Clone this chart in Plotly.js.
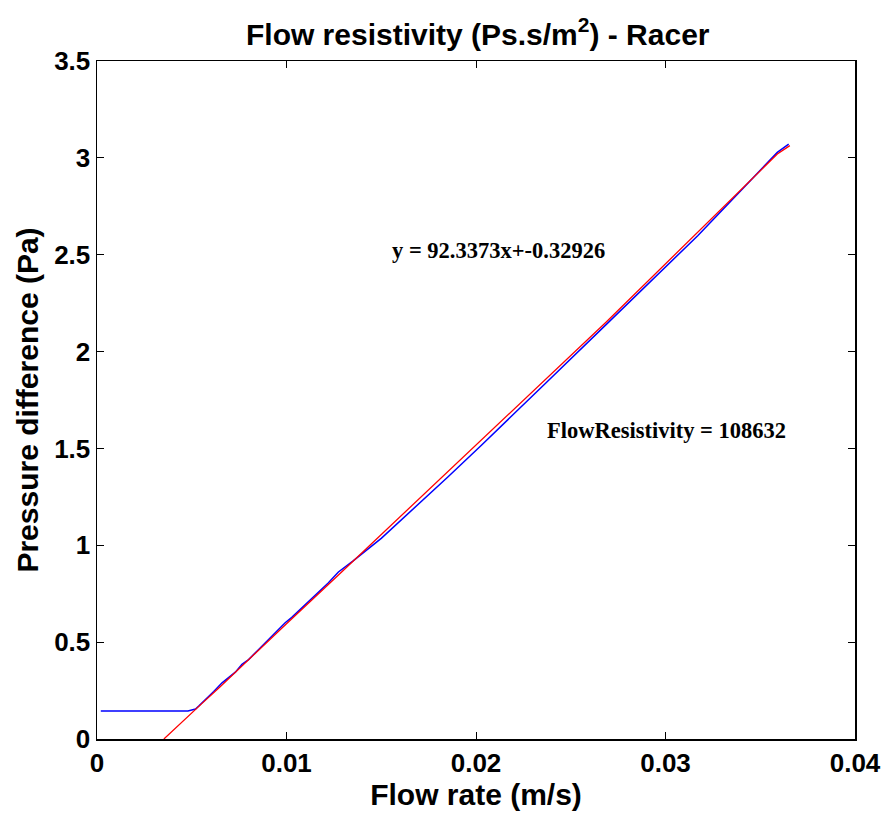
<!DOCTYPE html>
<html>
<head>
<meta charset="utf-8">
<script src="https://cdn.plot.ly/plotly-3.0.1.min.js"></script>
<style>html,body{margin:0;padding:0;background:#fff;}#chart{width:888px;height:814px;}</style>
</head>
<body>
<div id="chart"></div>
<script>
// Measured data (blue)
var measuredX = [0.0002, 0.0025, 0.00335, 0.0048, 0.005, 0.0052, 0.00537, 0.0058, 0.00616, 0.0066, 0.00695, 0.0073, 0.00765, 0.008, 0.00853, 0.00905, 0.00958, 0.00993, 0.01028, 0.0115, 0.0122, 0.01274, 0.0135, 0.015, 0.0168, 0.0185, 0.0203, 0.022, 0.0237, 0.027, 0.03, 0.0317, 0.0359, 0.0365];
var measuredY = [0.145, 0.145, 0.147, 0.145, 0.15, 0.155, 0.17, 0.21, 0.245, 0.29, 0.318, 0.345, 0.385, 0.41, 0.462, 0.513, 0.565, 0.6, 0.628, 0.738, 0.805, 0.862, 0.918, 1.036, 1.197, 1.351, 1.518, 1.677, 1.839, 2.152, 2.436, 2.598, 3.028, 3.071];
// Linear fit (red)
var fitX = [0.00353, 0.0045, 0.0055, 0.0065, 0.008, 0.01, 0.0127, 0.0185, 0.0234, 0.0269, 0.0359, 0.03656];
var fitY = [0, 0.09, 0.18, 0.27, 0.41, 0.595, 0.843, 1.379, 1.83, 2.155, 3.02, 3.063];
var xTicks = [0, 0.01, 0.02, 0.03, 0.04];
var yTicks = [0, 0.5, 1, 1.5, 2, 2.5, 3, 3.5];
var eqText = "y = 92.3373x+-0.32926";
var resText = "FlowResistivity = 108632";

var font = "Liberation Sans, Arial, sans-serif";
var serif = "Liberation Serif, Times New Roman, serif";
var traces = [
  {x: measuredX, y: measuredY, type: "scatter", mode: "lines", line: {color: "#0000ff", width: 1.5}, hoverinfo: "skip"},
  {x: fitX, y: fitY, type: "scatter", mode: "lines", line: {color: "#ff0000", width: 1.3}, hoverinfo: "skip"}
];
var axisCommon = {
  showline: true, linecolor: "#000", linewidth: 1.5, mirror: "ticks",
  ticks: "inside", ticklen: 7, tickwidth: 1, tickcolor: "#000",
  showgrid: false, zeroline: false,
  tickfont: {family: font, size: 26, color: "#000", weight: "bold"}
};
var layout = {
  width: 888, height: 814,
  margin: {l: 97, r: 33, t: 61, b: 75},
  paper_bgcolor: "#fff", plot_bgcolor: "#fff",
  showlegend: false,
  title: {text: "<b>Flow resistivity (Ps.s/m<sup>2</sup>) - Racer</b>", font: {family: font, size: 30, color: "#000"}, x: 0.538, xanchor: "center", y: 0.958, yref: "container", yanchor: "middle"},
  xaxis: Object.assign({}, axisCommon, {range: [0, 0.04], tickvals: xTicks, ticktext: xTicks.map(String),
    title: {text: "<b>Flow rate (m/s)</b>", font: {family: font, size: 30, color: "#000"}, standoff: 6}}),
  yaxis: Object.assign({}, axisCommon, {range: [0, 3.5], tickvals: yTicks, ticktext: yTicks.map(String),
    title: {text: "<b>Pressure difference (Pa)</b>", font: {family: font, size: 30, color: "#000"}, standoff: 6}}),
  annotations: [
    {x: 0.01546, y: 2.52, xref: "x", yref: "y", text: "<b>" + eqText + "</b>", showarrow: false, xanchor: "left", yanchor: "middle",
     font: {family: serif, size: 22.5, color: "#000"}},
    {x: 0.02365, y: 1.59, xref: "x", yref: "y", text: "<b>" + resText + "</b>", showarrow: false, xanchor: "left", yanchor: "middle",
     font: {family: serif, size: 22.5, color: "#000"}}
  ]
};
Plotly.newPlot("chart", traces, layout, {displayModeBar: false, staticPlot: true});
</script>
</body>
</html>
